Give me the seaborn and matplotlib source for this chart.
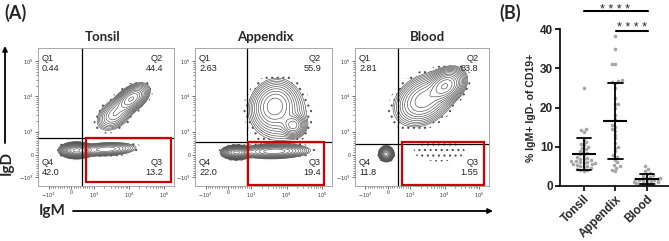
import numpy as np
import pandas as pd
import matplotlib
matplotlib.use("Agg")
import matplotlib.pyplot as plt
import seaborn as sns
from matplotlib.scale import SymmetricalLogTransform
from matplotlib.patches import Rectangle

# ---------------- data ----------------
tissues = ["Tonsil", "Appendix", "Blood"]

# quadrant frequencies (%)
q1_pct = ["0.44", "2.63", "2.81"]
q2_pct = ["44.4", "55.9", "83.8"]
q3_pct = ["13.2", "19.4", "1.55"]
q4_pct = ["42.0", "22.0", "11.8"]

# quadrant gate positions (IgM, IgD fluorescence)
igm_gate = [470, 820, 450]
igd_gate = [740, 560, 455]

# red Q3 gate (IgM from..to, IgD from..to)
q3_igm_lo = [650, 860, 650]
q3_igm_hi = [1.55e5, 1.15e5, 1.4e5]
q3_igd_lo = [-1360, -1650, -1650]
q3_igd_hi = [740, 560, 540]

# cell populations: centre IgM, centre IgD, spread IgM (decades), spread IgD (decades), correlation, % cells
tonsil_igm = [11750, 3980, 230, 2240]
tonsil_igd = [8500, 3160, 180, 230]
tonsil_sdm = [0.20, 0.22, 0.17, 0.35]
tonsil_sdd = [0.17, 0.20, 0.08, 0.08]
tonsil_rho = [0.5, 0.4, 0.0, 0.2]
tonsil_w = [30.0, 14.4, 42.0, 13.2]

appendix_igm = [4470, 15500, 6300, 350, 4470]
appendix_igd = [5620, 1510, 3160, 90, 140]
appendix_sdm = [0.28, 0.15, 0.38, 0.15, 0.38]
appendix_sdd = [0.30, 0.14, 0.38, 0.07, 0.08]
appendix_rho = [0.1, 0.0, 0.0, 0.0, 0.1]
appendix_w = [30.0, 8.0, 16.0, 22.0, 19.4]

blood_igm = [10500, 2500, -65, 7000]
blood_igd = [20000, 7940, 30, 150]
blood_sdm = [0.23, 0.35, 0.075, 0.5]
blood_sdd = [0.20, 0.30, 0.075, 0.2]
blood_rho = [0.3, 0.3, 0.0, 0.0]
blood_w = [40.0, 44.0, 11.8, 1.55]

# panel B: % IgM+ IgD- of CD19+
tonsil_vals = [25.0, 14.6, 14.2, 13.8, 12.0, 11.2, 10.8, 10.4, 10.0, 9.6, 9.3, 9.0,
               8.7, 8.4, 8.1, 7.8, 7.5, 7.2, 7.0, 6.8, 6.6, 6.4, 6.2, 6.0, 5.8, 5.6,
               5.4, 5.2, 5.0, 4.8, 4.6, 4.4, 4.2, 4.0, 3.8, 6.3, 5.9, 5.5]
appendix_vals = [38.3, 34.9, 31.2, 31.0, 27.0, 26.8, 26.5, 26.2, 25.0, 22.5, 21.0,
                 20.8, 19.9, 18.0, 17.0, 15.0, 14.0, 13.1, 12.2, 11.0, 10.0, 9.7,
                 8.8, 8.0, 7.5, 6.7, 6.0, 5.4, 5.0, 4.6, 4.2, 3.7, 14.5, 15.5]
blood_vals = [5.0, 4.4, 3.8, 3.3, 3.0, 2.7, 2.5, 2.3, 2.1, 2.0, 1.9, 1.7, 1.6, 1.5,
              1.4, 1.3, 1.2, 1.0, 0.9, 0.8, 0.6, 0.5, 0.4, 0.3, 0.2]

# ---------------- style ----------------
sns.set_theme(style="white")
plt.rcParams["font.family"] = ["Liberation Sans", "DejaVu Sans"]
plt.rcParams["hatch.color"] = "#4a4a4a"
plt.rcParams["hatch.linewidth"] = 0.8

W, H = 669, 241
fig = plt.figure(figsize=(W / 100, H / 100), dpi=100)

LT, LS = 1000, 0.585
tr = SymmetricalLogTransform(10, LT, LS)
inv = tr.inverted()
XLIM = (-2000, 1.95e5)
YLIM = (-1700, 2.45e5)


def to_u(v):
    return tr.transform_non_affine(np.atleast_1d(np.asarray(v, float))) / LT


u_grid = np.linspace(-1.1, 3.2, 420)
v_grid = inv.transform_non_affine(u_grid * LT)
UX, UY = np.meshgrid(u_grid, u_grid)
VX, VY = np.meshgrid(v_grid, v_grid)


def density(cm, cd, sm, sd, rho, w):
    Z = np.zeros_like(UX)
    for a, b, s1, s2, r, ww in zip(cm, cd, sm, sd, rho, w):
        mx, my = to_u(a)[0], to_u(b)[0]
        dx = (UX - mx) / s1
        dy = (UY - my) / s2
        q = (dx ** 2 - 2 * r * dx * dy + dy ** 2) / (1 - r ** 2)
        Z += ww / (2 * np.pi * s1 * s2 * np.sqrt(1 - r ** 2)) * np.exp(-q / 2)
    return Z


pops = [
    (tonsil_igm, tonsil_igd, tonsil_sdm, tonsil_sdd, tonsil_rho, tonsil_w),
    (appendix_igm, appendix_igd, appendix_sdm, appendix_sdd, appendix_rho, appendix_w),
    (blood_igm, blood_igd, blood_sdm, blood_sdd, blood_rho, blood_w),
]

boxes = [(38, 47.5, 136, 138), (195, 47.5, 137, 138), (355, 47.5, 134, 138)]

for i, t in enumerate(tissues):
    x0, y0, w, h = boxes[i]
    ax = fig.add_axes([x0 / W, (H - y0 - h) / H, w / W, h / H])
    ax.set_xscale("symlog", linthresh=LT, linscale=LS, base=10)
    ax.set_yscale("symlog", linthresh=LT, linscale=LS, base=10)
    Z = density(*pops[i])
    zmax = Z.max()
    levels = zmax * np.geomspace(0.008, 0.85, 15)
    cf = ax.contourf(VX, VY, Z, levels=[zmax * 0.0025, zmax * 0.008],
                     colors="none", hatches=["..."])
    cf.set_edgecolor("#505050")
    cf.set_linewidth(0)
    ax.contour(VX, VY, Z, levels=levels, colors="#4d4d4d", linewidths=0.45)
    ax.axvline(igm_gate[i], color="black", lw=0.9)
    ax.axhline(igd_gate[i], color="black", lw=0.9)
    ax.add_patch(Rectangle((q3_igm_lo[i], q3_igd_lo[i]), q3_igm_hi[i] - q3_igm_lo[i],
                           q3_igd_hi[i] - q3_igd_lo[i], fill=False,
                           edgecolor="#cc0000", lw=1.6, zorder=5))
    ticks = [-1e3, 0, 1e3, 1e4, 1e5]
    labs = ["$-10^3$", "0", "$10^3$", "$10^4$", "$10^5$"]
    ax.set_xticks(ticks, labs)
    ax.set_yticks(ticks, labs)
    minors = [s * k * 10 ** n for s in (-1, 1) for n in (2, 3, 4) for k in range(1, 10)]
    ax.set_xticks([m for m in minors if XLIM[0] < m < XLIM[1]], minor=True)
    ax.set_yticks([m for m in minors if YLIM[0] < m < YLIM[1]], minor=True)
    ax.set_xlim(*XLIM)
    ax.set_ylim(*YLIM)
    ax.tick_params(which="major", length=2, width=0.5, color="#333333",
                   labelsize=3.6, pad=1.5, labelcolor="#333333", direction="out")
    ax.tick_params(which="minor", length=1.2, width=0.4, color="#333333",
                   direction="out")
    ax.tick_params(bottom=True, left=True, top=False, right=False, which="both")
    for s in ax.spines.values():
        s.set_color("#9a9a9a")
        s.set_linewidth(0.6)
    fs = 6.6
    ax.text(0.03, 0.95, "Q1\n" + q1_pct[i], transform=ax.transAxes, ha="left",
            va="top", fontsize=fs, linespacing=1.15)
    ax.text(0.92, 0.95, "Q2\n" + q2_pct[i], transform=ax.transAxes, ha="right",
            va="top", fontsize=fs, linespacing=1.15)
    ax.text(0.03, 0.06, "Q4\n" + q4_pct[i], transform=ax.transAxes, ha="left",
            va="bottom", fontsize=fs, linespacing=1.15)
    ax.text(0.92, 0.06, "Q3\n" + q3_pct[i], transform=ax.transAxes, ha="right",
            va="bottom", fontsize=fs, linespacing=1.15)

# ---------------- panel B ----------------
df = pd.DataFrame({
    "tissue": ["Tonsil"] * len(tonsil_vals) + ["Appendix"] * len(appendix_vals)
    + ["Blood"] * len(blood_vals),
    "pct": tonsil_vals + appendix_vals + blood_vals,
})
axB = fig.add_axes([560 / W, 55 / H, 109 / W, 157 / H])
sns.swarmplot(data=df, x="tissue", y="pct", order=tissues, color="#a6a6a6",
              size=2.6, ax=axB, zorder=1)
sns.pointplot(data=df, x="tissue", y="pct", order=tissues, errorbar="sd",
              capsize=0.45, color="black", linestyle="none", marker="_",
              markersize=17, markeredgewidth=1.5, err_kws={"linewidth": 1.3},
              ax=axB)
axB.set_ylim(0, 40)
axB.set_xlim(-0.76, 2.7)
axB.set_yticks([0, 10, 20, 30, 40])
sns.despine(ax=axB)
for s in ("left", "bottom"):
    axB.spines[s].set_linewidth(1.2)
    axB.spines[s].set_color("black")
axB.tick_params(axis="both", length=3.5, width=1.2, color="black", labelsize=8.5,
                bottom=True, left=True, pad=1.5)
for lab in axB.get_yticklabels():
    lab.set_fontweight("bold")
axB.set_xticks(range(3), tissues, rotation=45, ha="right", rotation_mode="anchor",
               fontweight="bold", fontsize=8.5)
axB.set_xlabel("")
axB.set_ylabel("% IgM+ IgD- of CD19+", fontweight="bold", fontsize=7.6, labelpad=3)
axB.plot([0, 2.03], [44.5, 44.5], color="black", lw=1.5, clip_on=False)
axB.plot([1.02, 2.03], [39.6, 39.6], color="black", lw=1.5, clip_on=False)
axB.text(1.0, 44.2, "* * * *", ha="center", va="baseline", fontsize=9,
         clip_on=False)
axB.text(1.52, 39.4, "* * * *", ha="center", va="baseline", fontsize=9,
         clip_on=False)

# ---------------- overlay labels / arrows ----------------
ov = fig.add_axes([0, 0, 1, 1])
ov.set_xlim(0, W)
ov.set_ylim(H, 0)
ov.axis("off")
title_font = ["Lato", "DejaVu Sans"]
ov.text(4, 13, "(A)", fontsize=13, fontweight="bold", family=title_font,
        ha="left", va="center")
ov.text(499, 13, "(B)", fontsize=13, fontweight="bold", family=title_font,
        ha="left", va="center")
for x, t in zip([103, 265, 427], tissues):
    ov.text(x, 37, t, fontsize=9.5, fontweight="bold", family=title_font,
            ha="center", va="center")
ov.annotate("", xy=(5, 46), xytext=(5, 143),
            arrowprops=dict(arrowstyle="-|>", color="black", lw=1.3,
                            mutation_scale=7, shrinkA=0, shrinkB=0))
ov.annotate("", xy=(493, 211), xytext=(73, 211),
            arrowprops=dict(arrowstyle="-|>", color="black", lw=1.3,
                            mutation_scale=7, shrinkA=0, shrinkB=0))
ov.text(7, 163, "IgD", fontsize=11, fontweight="bold", family=title_font,
        rotation=90, ha="center", va="center")
ov.text(52, 211, "IgM", fontsize=11, fontweight="bold", family=title_font,
        ha="center", va="center")

fig.savefig("out.png", dpi=100)
